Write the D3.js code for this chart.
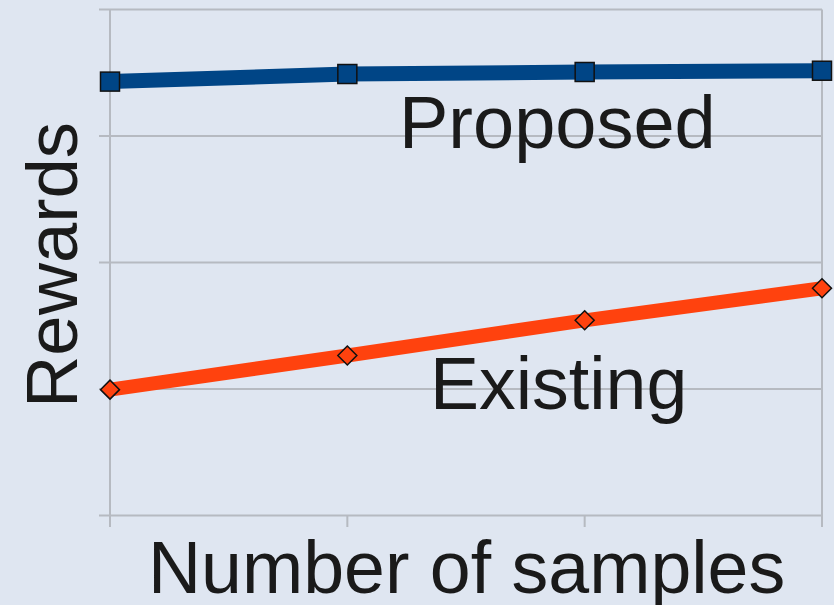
<!DOCTYPE html>
<html><head><meta charset="utf-8">
<script src="https://cdn.jsdelivr.net/npm/d3@7"></script>
<style>html,body{margin:0;padding:0;background:#dfe6f1;}svg{display:block;}</style>
</head><body>
<svg id="c" width="834" height="605"></svg>
<script>
const categories = [1, 2, 3, 4];
const proposed = [3.43, 3.49, 3.506, 3.516];
const existing = [0.995, 1.265, 1.543, 1.796];
const yTicks = [0, 1, 2, 3, 4];
const seriesLabels = ["Proposed", "Existing"];
const xTitle = "Number of samples";
const yTitle = "Rewards";

const svg = d3.select("#c");
svg.append("rect").attr("width", 834).attr("height", 605).attr("fill", "#dfe6f1");

const x = d3.scaleLinear().domain([1, 4]).range([110, 822]);
const y = d3.scaleLinear().domain([0, 4]).range([515.5, 9.5]);
const grid = "#b6bac1";

svg.append("g").selectAll("line").data(yTicks).join("line")
  .attr("x1", 99).attr("x2", x(4))
  .attr("y1", d => y(d)).attr("y2", d => y(d))
  .attr("stroke", grid).attr("stroke-width", 2);
svg.append("g").selectAll("line").data([1, 4]).join("line")
  .attr("x1", d => x(d)).attr("x2", d => x(d))
  .attr("y1", y(4)).attr("y2", 527)
  .attr("stroke", grid).attr("stroke-width", 2);
svg.append("g").selectAll("line").data(categories).join("line")
  .attr("x1", d => x(d)).attr("x2", d => x(d))
  .attr("y1", y(0)).attr("y2", 527)
  .attr("stroke", grid).attr("stroke-width", 2);

const line = d3.line().x((d, i) => x(categories[i])).y(d => y(d));

svg.append("path").datum(proposed).attr("d", line)
  .attr("fill", "none").attr("stroke", "#004586").attr("stroke-width", 15);
svg.append("path").datum(existing).attr("d", line)
  .attr("fill", "none").attr("stroke", "#ff420e").attr("stroke-width", 14);

svg.append("g").selectAll("rect").data(proposed).join("rect")
  .attr("x", (d, i) => x(categories[i]) - 9.5).attr("y", d => y(d) - 9.5)
  .attr("width", 19).attr("height", 19)
  .attr("fill", "#004586").attr("stroke", "#111").attr("stroke-width", 1.5);
svg.append("g").selectAll("path").data(existing).join("path")
  .attr("d", (d, i) => { const cx = x(categories[i]), cy = y(d), r = 9.5;
    return `M${cx},${cy - r}L${cx + r},${cy}L${cx},${cy + r}L${cx - r},${cy}Z`; })
  .attr("fill", "#ff420e").attr("stroke", "#111").attr("stroke-width", 1.5);

const font = "'Liberation Sans', Arial, sans-serif";
svg.append("text").attr("x", 399).attr("y", 148).text(seriesLabels[0])
  .attr("font-family", font).attr("font-size", 74).attr("fill", "#1a1a1a");
svg.append("text").attr("x", 430).attr("y", 409).text(seriesLabels[1])
  .attr("font-family", font).attr("font-size", 73.5).attr("fill", "#1a1a1a");
svg.append("text").attr("x", 148).attr("y", 593).text(xTitle)
  .attr("font-family", font).attr("font-size", 73.5).attr("fill", "#1a1a1a");
svg.append("text").attr("transform", "translate(77,408) rotate(-90)").text(yTitle)
  .attr("font-family", font).attr("font-size", 72.5).attr("fill", "#1a1a1a");
</script>
</body></html>
